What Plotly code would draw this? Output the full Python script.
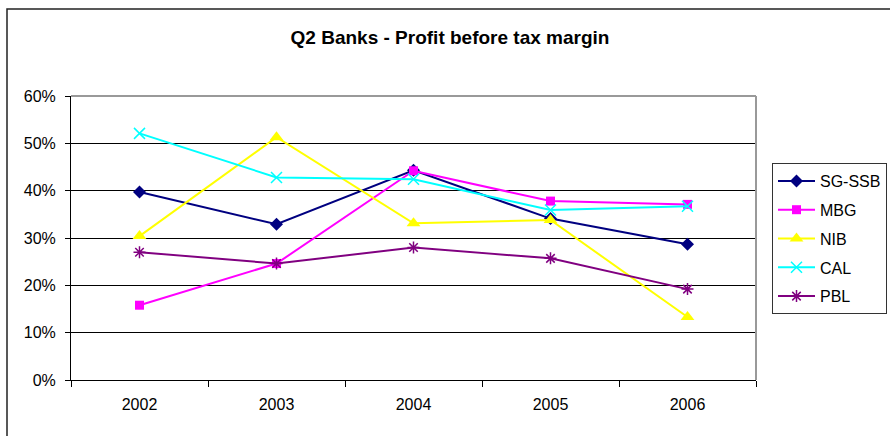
import plotly.graph_objects as go

# Profit before tax margin by bank, 2002-2006
years = ["2002", "2003", "2004", "2005", "2006"]
sg_ssb = [0.397, 0.329, 0.443, 0.341, 0.287]
mbg = [0.158, 0.246, 0.442, 0.378, 0.371]
nib = [0.304, 0.513, 0.331, 0.338, 0.133]
cal = [0.521, 0.428, 0.424, 0.359, 0.367]
pbl = [0.270, 0.246, 0.280, 0.257, 0.192]
y_ticks = [0, 0.1, 0.2, 0.3, 0.4, 0.5, 0.6]

FONT = "Liberation Sans, Arial, sans-serif"

series = [
    ("SG-SSB", sg_ssb, "#000080", dict(symbol="diamond", size=10)),
    ("MBG", mbg, "#FF00FF", dict(symbol="square", size=9)),
    ("NIB", nib, "#FFFF00", dict(symbol="triangle-up", size=12)),
    ("CAL", cal, "#00FFFF", dict(symbol="x-thin-open", size=11, line=dict(width=1.5))),
    ("PBL", pbl, "#800080", dict(symbol="asterisk-open", size=10, line=dict(width=1.5))),
]

fig = go.Figure()
for name, vals, color, marker in series:
    m = dict(color=color, **marker)
    if "line" in m:
        m["line"]["color"] = color
    fig.add_trace(go.Scatter(
        x=years, y=vals, name=name, mode="lines+markers",
        line=dict(color=color, width=2), marker=m, legendgroup=name,
    ))

L, R, T, B = 71, 134, 96, 56
W, H = 890, 436
pw, ph = W - L - R, H - T - B


def px(x):
    return (x - L) / pw


def py(y):
    return (H - B - y) / ph


shapes = [
    # outer chart frame
    dict(type="rect", xref="paper", yref="paper", x0=px(7), x1=px(893), y0=py(440), y1=py(9),
         line=dict(color="#222222", width=1.5), layer="below"),
    # plot-area border (top and right)
    dict(type="line", xref="paper", yref="paper", x0=0, x1=1, y0=1, y1=1,
         line=dict(color="#999999", width=2), layer="above"),
    dict(type="line", xref="paper", yref="paper", x0=1, x1=1, y0=0, y1=1,
         line=dict(color="#999999", width=2), layer="above"),
]

fig.update_layout(
    width=W, height=H,
    margin=dict(l=L, r=R, t=T, b=B, autoexpand=False),
    paper_bgcolor="white", plot_bgcolor="white",
    font=dict(family=FONT, size=16, color="black"),
    title=dict(text="<b>Q2 Banks - Profit before tax margin</b>", x=450 / W, xref="container",
               xanchor="center", y=1 - 37 / H, yref="container", yanchor="middle",
               font=dict(family=FONT, size=19, color="black")),
    showlegend=True,
    legend=dict(x=px(772), y=py(163), xanchor="left", yanchor="top",
                bordercolor="#333333", borderwidth=1, bgcolor="white",
                font=dict(family=FONT, size=16, color="black"),
                tracegroupgap=5, itemwidth=37),
    shapes=shapes,
)
fig.update_xaxes(
    type="category", range=[-0.5, 4.5], tickson="boundaries", ticks="outside", ticklen=6,
    tickcolor="black", showline=True, linecolor="black", linewidth=1, showgrid=False,
    tickfont=dict(family=FONT, size=16), ticklabelstandoff=10,
)
fig.update_yaxes(
    range=[0, 0.6], tickvals=y_ticks, tickformat=".0%", ticks="outside", ticklen=5,
    tickcolor="black", showline=True, linecolor="black", linewidth=1,
    showgrid=True, gridcolor="black", gridwidth=1, zeroline=False,
    tickfont=dict(family=FONT, size=16), ticklabelstandoff=6,
)

fig.write_html("out.html")
